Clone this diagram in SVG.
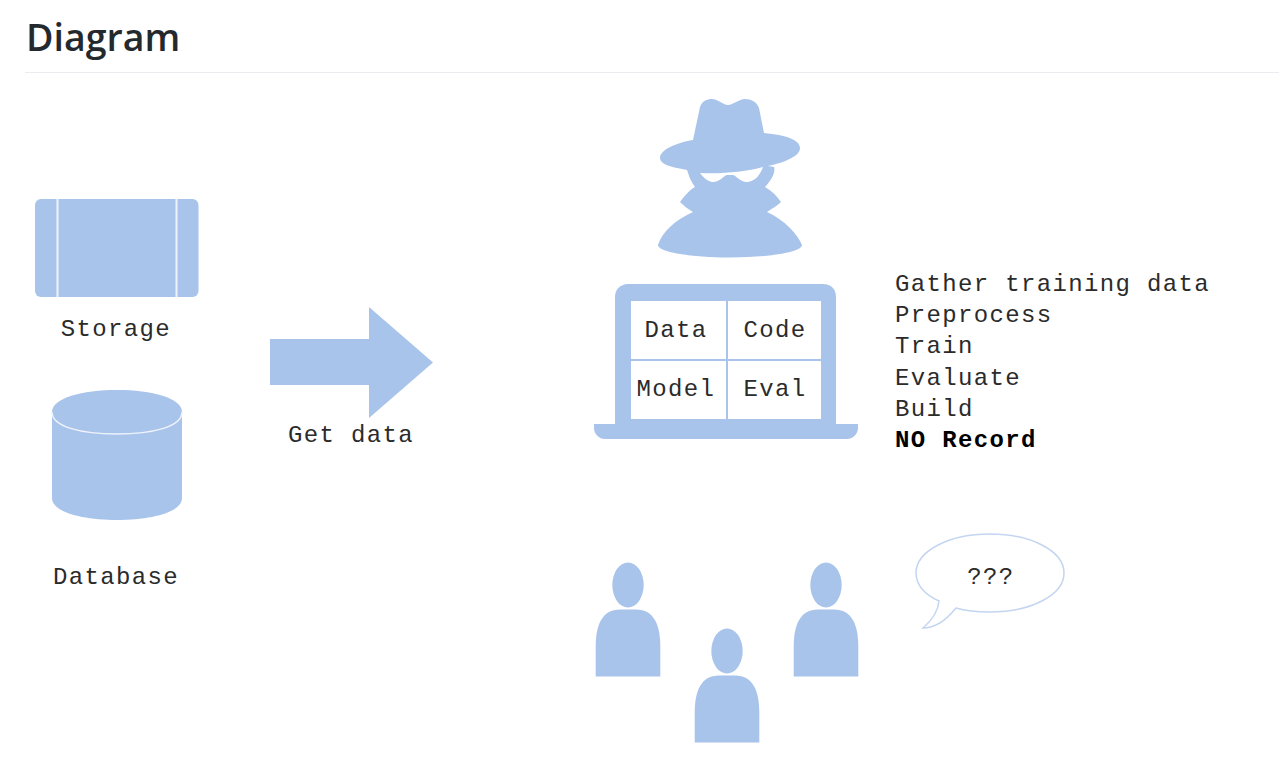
<svg xmlns="http://www.w3.org/2000/svg" width="1279" height="779" viewBox="0 0 1279 779">
<style>
.s{fill:#a9c4eb}
.t{font-family:"Liberation Mono","Courier New",monospace;font-size:24px;letter-spacing:1.35px;fill:#2b2b2b}
.m{text-anchor:middle}
.h{font-family:"Open Sans","Noto Sans",sans-serif;font-size:37.500px;font-weight:600;fill:#24292e}
</style>
<rect width="1279" height="779" fill="#fff"/>
<g id="title"><text class="h" x="26" y="51">Diagram</text><rect x="25" y="72" width="1254" height="1" fill="#eaecef"/></g>
<g id="storage">
<rect class="s" x="35" y="199" width="163.500" height="98" rx="6"/>
<path d="M57.500 199V297M176.500 199V297" stroke="#eef3fb" stroke-width="2" fill="none"/>
<text class="t m" x="116" y="336">Storage</text>
</g>
<g id="database">
<path class="s" d="M52 412C52 398 82 390 117 390C152 390 182 398 182 412V498C182 512 152 520 117 520C82 520 52 512 52 498Z"/>
<path d="M52 412C52 427 82 434 117 434C152 434 182 427 182 412" stroke="#eef3fb" stroke-width="1.500" fill="none"/>
<text class="t m" x="116" y="584">Database</text>
</g>
<g id="get-data">
<path class="s" d="M270 339H369V307L433 362.500L369 418V385H270Z"/>
<text class="t m" x="351" y="442">Get data</text>
</g>
<g id="spy">
<path class="s" d="M693 140L700 107C702 101 707 99 712 99C718 99 723 105 728 105C733 105 739 99 745 99C751 99 757 102 759 108L764 133C786 135 800 140 800 148C800 156 786 162 768 166L774 167C776 172 771 181 765 187C772 191 777 196 781 202C776 207 771 209 767 212C785 220 798 235 802 245C802 252 770 257.500 730 257.500C690 257.500 658 252 658 245C662 232 675 220 693 212C688 209 684 206 680 202C684 197 688 191 695 187C691 182 689 176 687 170C670 167 660 164 660 158C660 150 675 143 693 140Z"/>
<path fill="#fff" d="M700 173C722 174 745 172 763 167C761 173 756 181 748 182C741 183 737 176 733 175H727C723 176 719 183 712 182C707 181 703 177 700 173Z"/>
</g>
<g id="laptop">
<path class="s" d="M615 424V297C615 289 621 284 628 284H823C831 284 836 289 836 297V424H858V428C858 434 853 439 847 439H605C599 439 594 434 594 428V424Z"/>
<rect x="631" y="301" width="190" height="118" fill="#fff"/>
<path d="M727 301V419M631 360H821" stroke="#a9c4eb" stroke-width="2" fill="none"/>
<text class="t m" x="676" y="337">Data</text>
<text class="t m" x="775" y="337">Code</text>
<text class="t m" x="676" y="396">Model</text>
<text class="t m" x="775" y="396">Eval</text>
</g>
<g id="steps">
<text class="t" x="895" y="291">Gather training data</text>
<text class="t" x="895" y="322">Preprocess</text>
<text class="t" x="895" y="353">Train</text>
<text class="t" x="895" y="385">Evaluate</text>
<text class="t" x="895" y="416">Build</text>
<text class="t" x="895" y="447" font-weight="700" fill="#000" style="fill:#000">NO Record</text>
</g>
<defs>
<g id="person">
<ellipse class="s" cx="0" cy="0" rx="15.700" ry="22.500"/>
<path class="s" d="M-32.300 91.500V62C-32.300 40 -26 24.500 -8 24.500H8C26 24.500 32.300 40 32.300 62V91.500Z"/>
</g>
</defs>
<g id="person-left"><use href="#person" x="628" y="585"/></g>
<g id="person-middle"><use href="#person" x="727" y="651"/></g>
<g id="person-right"><use href="#person" x="826" y="585"/></g>
<g id="speech">
<path d="M939 601C925 595 916 585 916 573C916 551 949 534 990 534C1031 534 1064 551 1064 573C1064 595 1031 612 990 612C975 612 966 611 956 608C948 618 936 628 923 628C930 622 938 612 939 601Z" fill="#fff" stroke="#c3d5f0" stroke-width="1.500"/>
<text class="t m" x="991" y="584">???</text>
</g>
</svg>
